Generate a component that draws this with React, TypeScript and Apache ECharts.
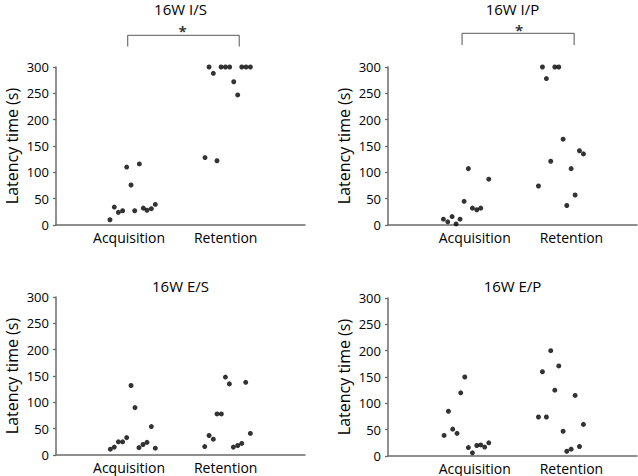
import React, { useEffect, useRef } from "react";
import * as echarts from "echarts";

const categories = ["Acquisition", "Retention"];
const yTicks = [0, 50, 100, 150, 200, 250, 300];
const titles = ["16W I/S", "16W I/P", "16W E/S", "16W E/P"];

// [x position (0 = Acquisition, 1 = Retention, with jitter), latency (s)]
const isPoints = [
  [-0.197, 10], [-0.152, 34], [-0.11, 24], [-0.066, 27], [-0.024, 110], [0.021, 76],
  [0.059, 27], [0.107, 116], [0.148, 32], [0.186, 28], [0.231, 31], [0.272, 39],
  [0.786, 128], [0.828, 300], [0.872, 288], [0.91, 122], [0.952, 300], [0.997, 300],
  [1.041, 300], [1.083, 272], [1.124, 247], [1.166, 300], [1.21, 300], [1.255, 300],
];
const ipPoints = [
  [-0.324, 11], [-0.279, 6], [-0.234, 16], [-0.193, 2], [-0.152, 11], [-0.11, 45],
  [-0.066, 107], [-0.024, 32], [0.021, 29], [0.062, 32], [0.145, 87],
  [0.659, 74], [0.7, 300], [0.741, 278], [0.786, 121], [0.828, 300], [0.869, 300],
  [0.914, 163], [0.952, 37], [0.997, 107], [1.038, 57], [1.083, 141], [1.124, 135],
];
const esPoints = [
  [-0.193, 11], [-0.152, 15], [-0.11, 25], [-0.066, 25], [-0.024, 33], [0.021, 132],
  [0.062, 90], [0.103, 14], [0.145, 20], [0.186, 24], [0.231, 54], [0.272, 13],
  [0.783, 16], [0.828, 37], [0.872, 30], [0.91, 78], [0.955, 78], [0.997, 148],
  [1.038, 135], [1.079, 15], [1.124, 18], [1.166, 22], [1.207, 138], [1.255, 41],
];
const epPoints = [
  [-0.317, 39], [-0.272, 85], [-0.228, 51], [-0.183, 43], [-0.145, 120], [-0.103, 150],
  [-0.066, 16], [-0.024, 6], [0.021, 20], [0.062, 21], [0.103, 17], [0.145, 25],
  [0.659, 74], [0.7, 160], [0.741, 74], [0.786, 200], [0.828, 125], [0.869, 171],
  [0.914, 47], [0.952, 9], [0.997, 13], [1.038, 115], [1.083, 18], [1.124, 60],
];
const panelPoints = [isPoints, ipPoints, esPoints, epPoints];

// significance brackets: [x left, x right, y low, y high, star x, star y]
const bracketIS = [-0.014, 1.14, 339, 360, 0.555, 369];
const bracketIP = [-0.131, 1.028, 342, 364, 0.459, 371];
const brackets = [bracketIS, bracketIP, null, null];

const FONT = "Open Sans";
const AXIS_COLOR = "#6b6b6b";

const grids = [
  { left: 56, top: 67, width: 249, height: 158 },
  { left: 388, top: 67, width: 249, height: 158 },
  { left: 56, top: 297, width: 249, height: 158 },
  { left: 388, top: 298, width: 249, height: 158 },
];
const xRanges = [
  [-0.755, 1.82],
  [-0.897, 1.678],
  [-0.755, 1.82],
  [-0.897, 1.678],
];
const titleTops = [1, 1, 278, 278];

export default function App() {
  const ref = useRef<HTMLDivElement>(null);
  useEffect(() => {
    if (!ref.current) return;
    const chart = echarts.init(ref.current, null, { renderer: "svg" });
    const series: any[] = [];
    panelPoints.forEach((pts, i) => {
      series.push({
        type: "scatter",
        xAxisIndex: i,
        yAxisIndex: i,
        data: pts,
        symbol: "circle",
        symbolSize: 5,
        itemStyle: { color: "#000" },
        clip: false,
      });
      const b = brackets[i];
      if (b) {
        series.push({
          type: "line",
          xAxisIndex: i,
          yAxisIndex: i,
          data: [[b[0], b[2]], [b[0], b[3]], [b[1], b[3]], [b[1], b[2]]],
          showSymbol: false,
          symbol: "none",
          clip: false,
          lineStyle: { color: "#7a7a7a", width: 1.3 },
          silent: true,
        });
        series.push({
          type: "scatter",
          xAxisIndex: i,
          yAxisIndex: i,
          data: [[b[4], b[5]]],
          symbolSize: 0,
          clip: false,
          label: {
            show: true,
            position: "inside",
            formatter: "*",
            color: "#000",
            fontFamily: FONT,
            fontSize: 15,
            fontWeight: "bold",
            lineHeight: 8,
          },
        });
      }
    });
    chart.setOption({
      animation: false,
      backgroundColor: "#fff",
      title: titles.map((t, i) => ({
        text: t,
        left: grids[i].left + grids[i].width / 2,
        textAlign: "center",
        top: titleTops[i],
        padding: 0,
        textStyle: {
          fontFamily: FONT,
          fontSize: 15,
          lineHeight: 15,
          fontWeight: "normal",
          color: "#000",
        },
      })),
      grid: grids,
      xAxis: grids.map((_, i) => ({
        type: "value",
        gridIndex: i,
        min: xRanges[i][0],
        max: xRanges[i][1],
        splitLine: { show: false },
        axisTick: { show: false },
        axisLine: { show: true, onZero: false, lineStyle: { color: AXIS_COLOR, width: 1.5 } },
        axisLabel: {
          customValues: [0, 1],
          formatter: (v: number) => categories[Math.round(v)] ?? "",
          fontFamily: FONT,
          fontSize: 14,
          lineHeight: 14,
          color: "#000",
          margin: 5,
        },
      })),
      yAxis: grids.map((_, i) => ({
        type: "value",
        gridIndex: i,
        min: 0,
        max: 300,
        interval: 50,
        name: "Latency time (s)",
        nameLocation: "middle",
        nameGap: 36,
        nameTextStyle: { fontFamily: FONT, fontSize: 16, lineHeight: 16, color: "#000" },
        splitLine: { show: false },
        axisTick: { show: true, length: 3, lineStyle: { color: AXIS_COLOR, width: 1.3 } },
        axisLine: { show: true, onZero: false, lineStyle: { color: AXIS_COLOR, width: 1.5 } },
        axisLabel: {
          formatter: (v: number) => (yTicks.includes(v) ? String(v) : ""),
          fontFamily: FONT,
          fontSize: 13,
          color: "#000",
          margin: 7,
        },
      })),
      series,
    });
    return () => chart.dispose();
  }, []);
  return (
    <div
      ref={ref}
      style={{ position: "fixed", left: 0, top: 0, width: 638, height: 476, background: "#fff" }}
    />
  );
}
